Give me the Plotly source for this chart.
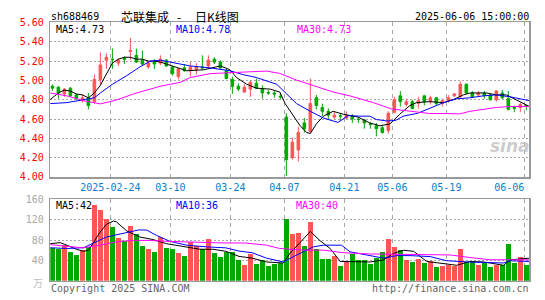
import plotly.graph_objects as go

# ---------------- data ----------------
dates = [
    "2025-02-10", "2025-02-11", "2025-02-12", "2025-02-13", "2025-02-14",
    "2025-02-17", "2025-02-18", "2025-02-19", "2025-02-20", "2025-02-21",
    "2025-02-24", "2025-02-25", "2025-02-26", "2025-02-27", "2025-02-28",
    "2025-03-03", "2025-03-04", "2025-03-05", "2025-03-06", "2025-03-07",
    "2025-03-10", "2025-03-11", "2025-03-12", "2025-03-13", "2025-03-14",
    "2025-03-17", "2025-03-18", "2025-03-19", "2025-03-20", "2025-03-21",
    "2025-03-24", "2025-03-25", "2025-03-26", "2025-03-27", "2025-03-28",
    "2025-03-31", "2025-04-01", "2025-04-02", "2025-04-03", "2025-04-07",
    "2025-04-08", "2025-04-09", "2025-04-10", "2025-04-11", "2025-04-14",
    "2025-04-15", "2025-04-16", "2025-04-17", "2025-04-18", "2025-04-21",
    "2025-04-22", "2025-04-23", "2025-04-24", "2025-04-25", "2025-04-28",
    "2025-04-29", "2025-04-30", "2025-05-06", "2025-05-07", "2025-05-08",
    "2025-05-09", "2025-05-12", "2025-05-13", "2025-05-14", "2025-05-15",
    "2025-05-16", "2025-05-19", "2025-05-20", "2025-05-21", "2025-05-22",
    "2025-05-23", "2025-05-26", "2025-05-27", "2025-05-28", "2025-05-29",
    "2025-05-30", "2025-06-03", "2025-06-04", "2025-06-05", "2025-06-06",
]

opens = [4.94, 4.93, 4.86, 4.92, 4.85, 4.79, 4.82, 4.78, 5.01, 5.21,
         5.22, 5.18, 5.23, 5.30, 5.26, 5.21, 5.14, 5.19, 5.18, 5.21,
         5.14, 5.04, 5.13, 5.10, 5.11, 5.14, 5.15, 5.22, 5.19, 5.10,
         5.01, 4.94, 4.88, 4.91, 4.97, 4.91, 4.875, 4.87, 4.835, 4.62,
         4.20, 4.28, 4.56, 4.47, 4.82, 4.72, 4.68, 4.62, 4.635, 4.61,
         4.63, 4.60, 4.59, 4.55, 4.53, 4.51, 4.48, 4.67, 4.84, 4.75,
         4.78, 4.76, 4.84, 4.78, 4.82, 4.76, 4.79, 4.84, 4.83, 4.96,
         4.87, 4.85, 4.87, 4.85, 4.80, 4.87, 4.81, 4.72, 4.72, 4.74]
highs = [4.96, 4.94, 4.92, 4.93, 4.86, 4.86, 4.87, 5.06, 5.29, 5.28,
         5.33, 5.23, 5.25, 5.44, 5.33, 5.31, 5.20, 5.22, 5.26, 5.22,
         5.15, 5.12, 5.17, 5.19, 5.18, 5.26, 5.26, 5.24, 5.21, 5.12,
         5.04, 4.97, 4.96, 5.00, 5.02, 4.95, 4.90, 4.89, 4.87, 4.66,
         4.41, 4.52, 4.61, 5.02, 4.85, 4.76, 4.71, 4.68, 4.66, 4.68,
         4.65, 4.62, 4.60, 4.57, 4.56, 4.53, 4.68, 4.83, 4.89, 4.81,
         4.80, 4.83, 4.85, 4.84, 4.83, 4.81, 4.85, 4.87, 4.99, 4.97,
         4.89, 4.89, 4.89, 4.86, 4.90, 4.90, 4.89, 4.74, 4.77, 4.75]
lows = [4.89, 4.81, 4.83, 4.83, 4.80, 4.77, 4.70, 4.76, 4.95, 5.12,
        5.12, 5.15, 5.17, 5.21, 5.18, 5.16, 5.12, 5.12, 5.16, 5.14,
        5.05, 5.01, 5.09, 5.04, 5.06, 5.11, 5.13, 5.17, 5.11, 5.01,
        4.86, 4.89, 4.87, 4.83, 4.91, 4.81, 4.85, 4.82, 4.80, 4.01,
        4.18, 4.16, 4.46, 4.46, 4.70, 4.63, 4.60, 4.60, 4.58, 4.60,
        4.56, 4.56, 4.50, 4.50, 4.42, 4.45, 4.45, 4.66, 4.73, 4.73,
        4.70, 4.71, 4.74, 4.75, 4.74, 4.73, 4.77, 4.83, 4.82, 4.86,
        4.82, 4.83, 4.81, 4.79, 4.78, 4.81, 4.69, 4.67, 4.67, 4.69]
closes = [4.92, 4.87, 4.91, 4.84, 4.81, 4.82, 4.74, 5.01, 5.16, 5.24,
          5.215, 5.21, 5.22, 5.31, 5.19, 5.17, 5.18, 5.17, 5.22, 5.15,
          5.07, 5.12, 5.10, 5.14, 5.14, 5.13, 5.21, 5.19, 5.13, 5.02,
          4.94, 4.91, 4.93, 4.98, 4.92, 4.87, 4.87, 4.86, 4.83, 4.18,
          4.36, 4.46, 4.50, 4.76, 4.74, 4.68, 4.64, 4.64, 4.63, 4.64,
          4.60, 4.595, 4.56, 4.545, 4.50, 4.46, 4.66, 4.80, 4.78, 4.78,
          4.71, 4.79, 4.78, 4.82, 4.76, 4.79, 4.82, 4.86, 4.96, 4.87,
          4.83, 4.87, 4.84, 4.80, 4.89, 4.82, 4.70, 4.71, 4.75, 4.73]
volumes = [64, 62, 71, 56, 50, 60, 67, 149, 140, 121,
           105, 84, 78, 107, 92, 69, 63, 57, 86, 65,
           62, 54, 48, 76, 69, 62, 82, 54, 46, 56,
           56, 40, 32, 52, 33, 41, 29, 33, 35, 122,
           92, 94, 69, 116, 63, 42, 43, 48, 29, 37,
           52, 41, 41, 33, 44, 56, 82, 67, 60, 41,
           37, 43, 35, 38, 27, 29, 31, 30, 63, 37,
           36, 32, 35, 27, 32, 31, 73, 35, 46, 31]

# moving-average lines (candle position, value)
ma5_pos = [-0.4, 1, 2, 3, 4, 5, 6, 7, 8, 9, 10, 11, 12, 13, 14, 15, 16, 17,
           18, 19, 20, 21, 22.4, 25.2, 28, 29.6, 30.7, 32.4, 34, 36.3, 37.9,
           38.8, 40.2, 41.3, 42.4, 43, 44, 45.2, 46.8, 48.5, 51, 52.9, 54.6,
           56.3, 57.9, 59.6, 60.7, 62.9, 65.2, 66.8, 68.5, 69.6, 72.4, 74,
           75.7, 77.4, 79.5]
ma5_val = [4.80, 4.87, 4.90, 4.89, 4.86, 4.85, 4.82, 4.87, 4.95, 5.07, 5.18,
           5.22, 5.24, 5.24, 5.22, 5.22, 5.20, 5.20, 5.19, 5.17, 5.15, 5.13,
           5.10, 5.11, 5.15, 5.11, 5.03, 4.96, 4.92, 4.91, 4.88, 4.76, 4.63,
           4.53, 4.46, 4.45, 4.55, 4.63, 4.68, 4.65, 4.62, 4.56, 4.53, 4.55,
           4.65, 4.74, 4.77, 4.78, 4.77, 4.80, 4.85, 4.87, 4.87, 4.85, 4.85,
           4.80, 4.73]
ma10_pos = [-0.4, 2.4, 5.2, 7, 8, 10, 12.4, 14.6, 16.3, 18, 19.6, 21.3, 23,
            26.3, 29.6, 31.8, 34, 37.4, 39, 40.7, 43, 45.2, 47.6, 49.3, 51.2,
            52.9, 54, 55.8, 57.2, 58.5, 60.9, 63.1, 65.2, 67.4, 69.6, 71.8,
            74, 76.3, 78.5, 79.5]
ma10_val = [4.76, 4.77, 4.80, 4.82, 4.87, 4.96, 5.05, 5.14, 5.20, 5.21, 5.19,
            5.17, 5.15, 5.13, 5.10, 5.06, 5.03, 4.96, 4.86, 4.76, 4.68, 4.61,
            4.565, 4.635, 4.63, 4.63, 4.595, 4.58, 4.585, 4.63, 4.66, 4.72,
            4.77, 4.81, 4.82, 4.84, 4.85, 4.83, 4.80, 4.79]
ma30_pos = [-0.4, 2.4, 5.2, 8, 9.6, 11.3, 13.5, 15.7, 18, 19.6, 21.3, 23,
            26.3, 29.6, 33, 35.7, 37.9, 40.7, 43.5, 46.8, 49.6, 51.3, 53.5,
            56.5, 59.6, 62.9, 65.7, 67.9, 69.6, 71.8, 74, 76.3, 79.5]
ma30_val = [4.87, 4.84, 4.79, 4.757, 4.78, 4.81, 4.86, 4.90, 4.94, 4.96, 4.98,
            5.03, 5.07, 5.08, 5.087, 5.097, 5.073, 5.003, 4.947, 4.88, 4.84,
            4.81, 4.77, 4.705, 4.68, 4.657, 4.657, 4.653, 4.68, 4.70, 4.72,
            4.73, 4.73]

vma5_pos = [-0.4, 1.3, 2.4, 4, 5.2, 6, 6.9, 7.9, 9, 10.2, 10.7, 12.4, 14.6,
            16.8, 19, 21.3, 24.6, 26.8, 28.9, 31.1, 33.3, 35.7, 38.5, 39.6,
            41.3, 43, 44.6, 46.3, 48, 50.2, 53, 55.2, 56.9, 58.5, 60.2, 62.4,
            65.2, 67.4, 69.6, 71.9, 75.2, 76.3, 79.5]
vma5_val = [73, 75, 70, 62, 58, 60, 76, 95, 111, 117.5, 115.6, 98, 86, 81,
            73, 68, 62, 62, 58, 48, 44.5, 37, 35, 54, 76, 97, 79, 63.5, 38,
            37, 37, 41, 54, 60, 58, 38, 33, 30.5, 38, 37, 30.5, 41, 44.5]
vma10_pos = [-0.4, 2.4, 5.2, 6.9, 9, 11.3, 14.4, 15.7, 17.4, 19.6, 22.4, 25.7,
             28.9, 31.1, 33.3, 35.7, 38.5, 40.2, 43.5, 45.2, 48.2, 49.6, 53,
             55.2, 57.4, 59.6, 63, 65.7, 69.6, 73, 75.2, 76.3, 79.5]
vma10_val = [65, 63.5, 65, 75, 86, 92, 100, 99.7, 89, 77.5, 70, 66.7, 64.8,
             58.4, 55.2, 44.5, 37, 47.6, 66.7, 70, 70, 57, 49, 44.5, 49.5,
             49.5, 47.6, 39.4, 36.8, 35, 35, 39.4, 38]
vma30_pos = [-0.4, 2.4, 5.2, 6.9, 9, 11.3, 13.5, 16.3, 19, 22.4, 25.7, 28.9,
             32.2, 35.7, 37.9, 41.9, 45.2, 48.5, 53, 57.4, 61.9, 66.3, 69.6,
             73, 76.3, 79.5]
vma30_val = [71, 68.6, 64.8, 68, 73, 77.5, 79.4, 79.4, 77.5, 76.2, 76.2, 74.3,
             74.3, 70, 63.5, 60.3, 60.3, 55.2, 52.7, 52, 52, 50.8, 45.7, 41.3,
             41.3, 41.3]

tick_dates = ["2025-02-24", "2025-03-10", "2025-03-24", "2025-04-07",
              "2025-04-21", "2025-05-06", "2025-05-19", "2025-06-06"]
tick_labels = ["2025-02-24", "03-10", "03-24", "04-07", "04-21", "05-06",
               "05-19", "06-06"]
price_ticks = [4.00, 4.20, 4.40, 4.60, 4.80, 5.00, 5.20, 5.40, 5.60]
vol_ticks = [40, 80, 120, 160]

code = "sh688469"
title_name = "芯联集成"
title_kind = "日K线图"
timestamp = "2025-06-06 15:00:00"
ma_price_text = ["MA5:4.73", "MA10:4.78", "MA30:4.73"]
ma_vol_text = ["MA5:42", "MA10:36", "MA30:40"]

# ---------------- style ----------------
W, H = 545, 300
RED = "#ff5555"
GREEN = "#00a800"
MA_COLORS = ["#000000", "#0000ff", "#ff00ff"]
MONO = "DejaVu Sans Mono"
CJK = "Noto Sans CJK SC"
GRID = "#a8a8a8"
BORDER = "#999999"


def px(x):
    return x / W


def py(y):
    return 1 - y / H


idx = list(range(len(dates)))
grid_pos = [dates.index(d) - 0.33 for d in tick_dates]
label_pos = grid_pos[:-1] + [grid_pos[-1] - 2.5]
XR = [-0.35, 79.5]
XDOM = [px(50.3), px(529.3)]

fig = go.Figure()

fig.add_trace(go.Candlestick(
    x=idx, open=opens, high=highs, low=lows, close=closes,
    increasing=dict(line=dict(color=RED, width=1), fillcolor=RED),
    decreasing=dict(line=dict(color=GREEN, width=1), fillcolor=GREEN),
    whiskerwidth=0, hoverinfo="skip", xaxis="x", yaxis="y",
))
for pos, val, col in [(ma5_pos, ma5_val, MA_COLORS[0]),
                      (ma10_pos, ma10_val, MA_COLORS[1]),
                      (ma30_pos, ma30_val, MA_COLORS[2])]:
    fig.add_trace(go.Scatter(x=pos, y=val, mode="lines",
                             line=dict(color=col, width=1),
                             hoverinfo="skip", xaxis="x", yaxis="y"))

vol_colors = [RED if c >= o else GREEN for o, c in zip(opens, closes)]
fig.add_trace(go.Bar(x=idx, y=volumes, width=0.78,
                     marker=dict(color=vol_colors, line=dict(width=0)),
                     hoverinfo="skip", xaxis="x2", yaxis="y2"))
for pos, val, col in [(vma5_pos, vma5_val, MA_COLORS[0]),
                      (vma10_pos, vma10_val, MA_COLORS[1]),
                      (vma30_pos, vma30_val, MA_COLORS[2])]:
    fig.add_trace(go.Scatter(x=pos, y=val, mode="lines",
                             line=dict(color=col, width=1),
                             hoverinfo="skip", xaxis="x2", yaxis="y2"))

# invisible carrier for the date-label axis
fig.add_trace(go.Scatter(x=label_pos, y=[4.0] * len(label_pos), mode="markers",
                         marker=dict(opacity=0), hoverinfo="skip",
                         xaxis="x3", yaxis="y"))

common_x = dict(domain=XDOM, range=XR, showgrid=True, gridcolor=GRID,
                griddash="4px,4px", gridwidth=1, tickvals=grid_pos,
                showticklabels=False, ticks="", zeroline=False,
                showline=True, mirror=True, linecolor=BORDER, linewidth=1.5,
                fixedrange=True)

fig.update_layout(
    width=W, height=H, margin=dict(l=0, r=0, t=0, b=0),
    paper_bgcolor="white", plot_bgcolor="white", showlegend=False,
    boxgap=0.38, bargap=0,
    font=dict(family=MONO, size=10, color="#000"),
    xaxis=dict(anchor="y", rangeslider=dict(visible=False), **common_x),
    xaxis2=dict(anchor="y2", **common_x),
    xaxis3=dict(overlaying="x", anchor="y", side="bottom", range=XR,
                domain=XDOM, tickvals=label_pos, ticktext=tick_labels,
                showgrid=False, showline=False, zeroline=False, ticks="",
                ticklabelstandoff=3, fixedrange=True,
                tickfont=dict(family=MONO, size=10, color="#0a7ecf")),
    yaxis=dict(domain=[py(178), py(18)], range=[3.999, 5.601],
               tickvals=price_ticks,
               ticktext=["%.2f" % v for v in price_ticks],
               tickfont=dict(family=MONO, size=10, color="#ff0000"),
               showgrid=True, gridcolor=GRID, griddash="2px,2px",
               zeroline=False, ticks="", ticklabelstandoff=3,
               showline=True, mirror=True, linecolor=BORDER, linewidth=1.5,
               fixedrange=True),
    yaxis2=dict(domain=[py(285.3), py(201)], range=[0, 160.2],
                tickvals=vol_ticks, ticktext=[str(v) for v in vol_ticks],
                tickfont=dict(family=MONO, size=10, color="#a8a8a8"),
                showgrid=True, gridcolor=GRID, griddash="2px,2px",
                zeroline=False, ticks="", ticklabelstandoff=3,
                showline=True, mirror=True, linecolor=BORDER, linewidth=1.5,
                fixedrange=True),
)

ann = []


def text(x, y, s, color="#000", anchor="left", size=10, family=MONO, **kw):
    ann.append(dict(x=px(x), y=py(y), xref="paper", yref="paper", text=s,
                    showarrow=False, xanchor=anchor, yanchor="middle",
                    font=dict(family=family, size=size, color=color), **kw))


text(49, 11.5, code)
text(119, 11.5, title_name, size=12, family=CJK)
text(179, 11.5, "-", size=12, family=CJK, anchor="center")
text(193, 11.5, title_kind, size=12, family=CJK)
text(531, 11.5, timestamp, anchor="right")
for s, x, c in zip(ma_price_text, [54, 174, 295], MA_COLORS):
    text(x, 25, s, c)
for s, x, c in zip(ma_vol_text, [54, 174, 294], MA_COLORS):
    text(x, 207, s, c)
text(49, 293, "Copyright 2025 SINA.COM", "#666666")
text(531, 293, "http://finance.sina.com.cn", "#666666", anchor="right")
text(45, 287, "万", "#c0c0c0", anchor="right", size=10, family=CJK)
text(510, 146, "<b><i>sina</i></b>", "rgba(190,190,190,0.8)", anchor="center",
     size=17, family="DejaVu Sans")
fig.update_layout(annotations=ann)

fig.write_html(
    "out.html",
    config={"displayModeBar": False, "staticPlot": True},
    post_script="document.body.style.margin='0';"
                "document.documentElement.style.overflow='hidden';",
)
